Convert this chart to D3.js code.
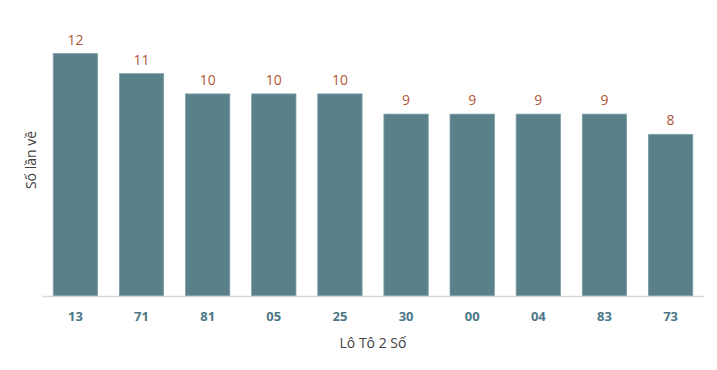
<!DOCTYPE html>
<html>
<head>
<meta charset="utf-8">
<script src="https://cdn.jsdelivr.net/npm/d3@7"></script>
<style>
  body { margin: 0; background: #fff; }
  text { font-family: "Open Sans", "Noto Sans", sans-serif; }
</style>
</head>
<body>
<div id="chart"></div>
<script>
const LOTO = ["13", "71", "81", "05", "25", "30", "00", "04", "83", "73"];
const SO_LAN = [12, 11, 10, 10, 10, 9, 9, 9, 9, 8];

const WIDTH = 717;
const HEIGHT = 370;
const BASE_Y = 296;

const svg = d3.select("#chart").append("svg")
    .attr("width", WIDTH).attr("height", HEIGHT);

const data = LOTO.map((d, i) => ({ so: d, lan: SO_LAN[i] }));

const escalaX = d3.scaleBand()
    .domain(LOTO)
    .range([42, 704])
    .paddingInner(0.33)
    .paddingOuter(0.17);

const escalaY = d3.scaleLinear()
    .domain([0, 12])
    .range([BASE_Y, 53.5]);

// barras
svg.selectAll("rect.bar")
    .data(data)
    .join("rect")
    .attr("class", "bar")
    .attr("x", d => escalaX(d.so))
    .attr("y", d => escalaY(d.lan))
    .attr("width", escalaX.bandwidth())
    .attr("height", d => BASE_Y - escalaY(d.lan))
    .attr("fill", "#5a8089")
    .attr("stroke", "#7a9ea6")
    .attr("stroke-width", 0.8);

// etiquetas de valor
svg.selectAll("text.valor")
    .data(data)
    .join("text")
    .attr("class", "valor")
    .attr("x", d => escalaX(d.so) + escalaX.bandwidth() / 2)
    .attr("y", d => escalaY(d.lan) - 9)
    .attr("text-anchor", "middle")
    .attr("font-size", 14)
    .attr("fill", "#b0573a")
    .text(d => d.lan);

// eje x
const ejeX = svg.append("g")
    .attr("transform", `translate(0, ${BASE_Y})`)
    .call(d3.axisBottom(escalaX).tickSize(0).tickPadding(16));
ejeX.select(".domain").attr("stroke", "#d9d9d9").attr("stroke-width", 1.5);
ejeX.selectAll("text")
    .attr("font-size", 13)
    .attr("font-weight", "bold")
    .attr("fill", "#4c7787")
    .style("font-family", "'Open Sans', sans-serif");

// titulos
svg.append("text")
    .attr("x", 373)
    .attr("y", 348)
    .attr("text-anchor", "middle")
    .attr("font-size", 14)
    .attr("fill", "#404040")
    .text("Lô Tô 2 Số");

svg.append("text")
    .attr("transform", "translate(36, 160) rotate(-90)")
    .attr("text-anchor", "middle")
    .attr("font-size", 14)
    .attr("fill", "#404040")
    .text("Số lần về");
</script>
</body>
</html>
